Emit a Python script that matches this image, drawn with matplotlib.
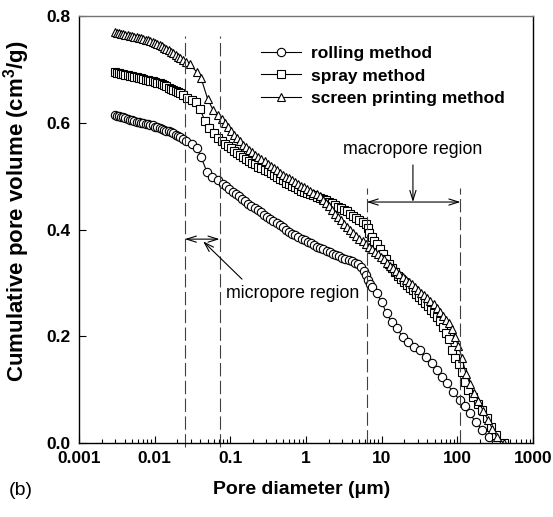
import matplotlib
matplotlib.use("Agg")
import matplotlib.pyplot as plt

plt.rcParams['font.family'] = ['Liberation Sans', 'DejaVu Sans']
plt.rcParams['mathtext.fontset'] = 'custom'
plt.rcParams['mathtext.bf'] = 'Liberation Sans:bold'
plt.rcParams['mathtext.rm'] = 'Liberation Sans'

# pore diameter (um) / cumulative pore volume (cm3/g)
rolling_d = [0.0030, 0.0032, 0.0034, 0.0036, 0.0038, 0.0041, 0.0044, 0.0047, 0.0050, 0.0054,
             0.0058, 0.0062, 0.0066, 0.0071, 0.0076, 0.0082, 0.0088, 0.0094, 0.0100, 0.0108,
             0.0116, 0.0124, 0.0133, 0.0143, 0.0153, 0.0164, 0.0176, 0.0189, 0.0203, 0.0218,
             0.0234, 0.026, 0.031, 0.036, 0.041, 0.049, 0.058, 0.068,
             0.080, 0.088, 0.097, 0.107, 0.118, 0.130, 0.143, 0.157, 0.173, 0.190,
             0.209, 0.230, 0.253, 0.278, 0.306, 0.337, 0.371, 0.408, 0.449, 0.494,
             0.543, 0.597, 0.657, 0.723, 0.795, 0.875, 0.962, 1.06, 1.16, 1.28,
             1.41, 1.55, 1.70, 1.87, 2.06, 2.27, 2.49, 2.74, 3.02, 3.32,
             3.65, 4.01, 4.41, 4.85, 5.3, 5.8, 6.2,
             6.6, 7.1, 7.5, 8.6, 10, 11.6, 13.5, 15.8, 19, 22, 27, 32, 38, 46,
             54, 62, 72, 87, 107, 125, 145, 175, 215, 260, 320]
rolling_v = [0.614, 0.613, 0.612, 0.611, 0.610, 0.609, 0.607, 0.606, 0.605, 0.604,
             0.602, 0.601, 0.600, 0.599, 0.598, 0.597, 0.596, 0.595, 0.593, 0.592,
             0.590, 0.589, 0.587, 0.585, 0.584, 0.582, 0.580, 0.578, 0.576, 0.573,
             0.570, 0.566, 0.560, 0.553, 0.536, 0.508, 0.498, 0.492,
             0.486, 0.481, 0.476, 0.471, 0.467, 0.462, 0.458, 0.453, 0.448, 0.444,
             0.440, 0.436, 0.432, 0.428, 0.424, 0.420, 0.416, 0.412, 0.408, 0.404,
             0.400, 0.396, 0.392, 0.389, 0.386, 0.383, 0.380, 0.377, 0.374, 0.371,
             0.368, 0.366, 0.363, 0.360, 0.358, 0.355, 0.352, 0.350, 0.347, 0.345,
             0.343, 0.341, 0.338, 0.335, 0.330, 0.323, 0.315,
             0.305, 0.297, 0.292, 0.281, 0.264, 0.243, 0.227, 0.215, 0.199, 0.189, 0.180, 0.174, 0.161, 0.150,
             0.137, 0.124, 0.112, 0.096, 0.081, 0.070, 0.056, 0.039, 0.024, 0.011, 0.003]

spray_d = [0.0030, 0.0032, 0.0034, 0.0036, 0.0038, 0.0041, 0.0044, 0.0047, 0.0050, 0.0054,
           0.0058, 0.0062, 0.0066, 0.0071, 0.0076, 0.0082, 0.0088, 0.0094, 0.0100, 0.0108,
           0.0116, 0.0124, 0.0133, 0.0143, 0.0153, 0.0164, 0.0176, 0.0189, 0.0203, 0.0218,
           0.0234, 0.027, 0.031, 0.035, 0.040, 0.046, 0.053, 0.061, 0.069,
           0.077, 0.085, 0.093, 0.102, 0.112, 0.123, 0.135, 0.148, 0.162, 0.178,
           0.195, 0.214, 0.235, 0.258, 0.283, 0.311, 0.341, 0.374, 0.411, 0.451,
           0.495, 0.543, 0.596, 0.654, 0.718, 0.788, 0.865, 0.950, 1.04, 1.14,
           1.25, 1.38, 1.51, 1.66, 1.82, 2.00, 2.20, 2.41, 2.65, 2.91,
           3.19, 3.50, 3.85, 4.22, 4.64, 5.09, 5.59, 6.14,
           6.5, 6.9, 7.4, 8.0, 8.7, 9.5, 10.4, 11.4, 12.5, 13.7,
           15.0, 16.5, 18.1, 19.8, 21.7, 23.8, 26.1, 28.6, 31.4, 34.4,
           37.7, 41.3, 45.3, 49.7, 54.5, 59.7, 65.5, 71.8, 78.7, 86.3,
           94.6, 104, 115, 126, 140, 160, 185, 215, 245, 280, 320, 410]
spray_v = [0.695, 0.694, 0.693, 0.692, 0.691, 0.690, 0.689, 0.688, 0.687, 0.686,
           0.685, 0.684, 0.683, 0.682, 0.681, 0.680, 0.679, 0.678, 0.677, 0.675,
           0.674, 0.672, 0.670, 0.668, 0.666, 0.664, 0.662, 0.660, 0.657, 0.655,
           0.652, 0.647, 0.642, 0.638, 0.625, 0.604, 0.590, 0.580, 0.571,
           0.565, 0.560, 0.556, 0.552, 0.548, 0.544, 0.540, 0.536, 0.532, 0.529,
           0.525, 0.522, 0.518, 0.515, 0.512, 0.509, 0.505, 0.502, 0.499, 0.495,
           0.492, 0.488, 0.485, 0.482, 0.479, 0.476, 0.473, 0.470, 0.468, 0.466,
           0.464, 0.461, 0.459, 0.457, 0.455, 0.452, 0.449, 0.446, 0.443, 0.440,
           0.437, 0.434, 0.430, 0.426, 0.422, 0.418, 0.414, 0.410,
           0.402, 0.394, 0.386, 0.378, 0.372, 0.364, 0.355, 0.345, 0.335, 0.327,
           0.320, 0.313, 0.307, 0.301, 0.296, 0.291, 0.286, 0.280, 0.274, 0.268,
           0.262, 0.256, 0.250, 0.244, 0.237, 0.228, 0.218, 0.207, 0.195, 0.175,
           0.160, 0.148, 0.133, 0.115, 0.100, 0.087, 0.074, 0.062, 0.046, 0.030, 0.015, 0.000]

screen_d = [0.0030, 0.0032, 0.0034, 0.0036, 0.0038, 0.0041, 0.0044, 0.0047, 0.0050, 0.0054,
            0.0058, 0.0062, 0.0066, 0.0071, 0.0076, 0.0082, 0.0088, 0.0094, 0.0100, 0.0108,
            0.0116, 0.0124, 0.0133, 0.0143, 0.0153, 0.0164, 0.0176, 0.0189, 0.0203, 0.0218,
            0.0234, 0.026, 0.029, 0.036, 0.041, 0.050, 0.059, 0.068, 0.077,
            0.085, 0.093, 0.102, 0.112, 0.123, 0.135, 0.148, 0.162, 0.178, 0.195,
            0.214, 0.235, 0.258, 0.283, 0.311, 0.341, 0.374, 0.411, 0.451, 0.495,
            0.543, 0.596, 0.654, 0.718, 0.788, 0.865, 0.950, 1.04, 1.14, 1.25,
            1.38, 1.51, 1.66, 1.82, 2.00, 2.20, 2.41, 2.65, 2.91, 3.19,
            3.50, 3.85, 4.22, 4.64, 5.09, 5.59, 6.14,
            6.7, 7.4, 8.1, 8.9, 9.8, 10.8, 11.8, 13.0, 14.3, 15.7,
            17.2, 18.9, 20.8, 22.8, 25.1, 27.6, 30.3, 33.3, 36.6, 40.2,
            44.2, 48.5, 53.3, 58.6, 64.4, 70.7, 77.7, 85.4, 93.8, 103,
            115, 130, 148, 168, 190, 220, 255, 290, 330, 410]
screen_v = [0.770, 0.769, 0.768, 0.767, 0.766, 0.765, 0.764, 0.763, 0.762, 0.761,
            0.760, 0.759, 0.758, 0.757, 0.756, 0.755, 0.754, 0.752, 0.750, 0.748,
            0.746, 0.743, 0.741, 0.738, 0.736, 0.733, 0.730, 0.727, 0.724, 0.721,
            0.718, 0.714, 0.710, 0.695, 0.684, 0.645, 0.624, 0.614, 0.607,
            0.600, 0.592, 0.585, 0.578, 0.571, 0.565, 0.559, 0.554, 0.549, 0.545,
            0.540, 0.536, 0.532, 0.528, 0.523, 0.519, 0.515, 0.511, 0.506, 0.502,
            0.499, 0.496, 0.493, 0.489, 0.485, 0.482, 0.479, 0.476, 0.472, 0.469,
            0.466, 0.462, 0.456, 0.450, 0.444, 0.437, 0.430, 0.423, 0.417, 0.411,
            0.405, 0.400, 0.394, 0.388, 0.383, 0.378, 0.373,
            0.368, 0.363, 0.358, 0.354, 0.349, 0.344, 0.338, 0.332, 0.327, 0.322,
            0.317, 0.311, 0.306, 0.301, 0.297, 0.292, 0.287, 0.282, 0.277, 0.272,
            0.266, 0.260, 0.253, 0.245, 0.238, 0.231, 0.224, 0.214, 0.198, 0.182,
            0.160, 0.130, 0.110, 0.093, 0.079, 0.060, 0.043, 0.027, 0.012, 0.000]

labels = ['rolling method', 'spray method', 'screen printing method']
x_ticks = [0.001, 0.01, 0.1, 1, 10, 100, 1000]
x_tick_labels = ['0.001', '0.01', '0.1', '1', '10', '100', '1000']
y_ticks = [0.0, 0.2, 0.4, 0.6, 0.8]
micro_bounds = [0.025, 0.072]
macro_bounds = [6.34, 110]

fig = plt.figure(figsize=(5.53, 5.17), dpi=100)
ax = fig.add_axes([0.1429, 0.1431, 0.8209, 0.8259])

style = dict(color='black', lw=0.8, mfc='white', mec='black', mew=0.8, ms=6)
ax.plot(rolling_d, rolling_v, marker='o', label=labels[0], **style)
ax.plot(spray_d, spray_v, marker='s', label=labels[1], **style)
ax.plot(screen_d, screen_v, marker='^', label=labels[2], **style)

ax.set_xscale('log')
ax.set_xlim(0.001, 1000)
ax.set_ylim(0.0, 0.8)
ax.set_xticks(x_ticks)
ax.set_xticklabels(x_tick_labels)
ax.set_yticks(y_ticks)
ax.set_yticklabels(['%.1f' % v for v in y_ticks])
ax.tick_params(which='both', direction='in', top=False, right=False,
               labelsize=12.5, pad=6)
ax.tick_params(which='major', length=5, width=0.8)
ax.tick_params(which='minor', length=3, width=0.8)
for lab in ax.get_xticklabels() + ax.get_yticklabels():
	lab.set_fontweight('bold')
for sp in ax.spines.values():
	sp.set_linewidth(1.0)
ax.spines['top'].set_color('0.45')

ax.set_xlabel('Pore diameter (\u03bcm)', fontsize=14, fontweight='bold')
ax.set_ylabel('Cumulative pore volume (cm$^{\\mathbf{3}}$/g)', fontsize=16, fontweight='bold')
ax.xaxis.set_label_coords(0.49, -0.09)
ax.yaxis.set_label_coords(-0.104, 0.543)

dash = (0, (12, 4))
for b in micro_bounds:
	ax.axvline(b, ymin=-0.01, ymax=0.953, color='0.25', lw=0.8, ls=dash, clip_on=False)
for b in macro_bounds:
	ax.axvline(b, ymin=0.0, ymax=0.597, color='0.25', lw=0.8, ls=dash)

arrow2 = dict(arrowstyle='<->,head_length=0.7,head_width=0.22', lw=0.8, color='black',
              shrinkA=0, shrinkB=0)
arrow1 = dict(arrowstyle='->,head_length=0.7,head_width=0.22', lw=0.8, color='black',
              shrinkA=0, shrinkB=0)
ax.annotate('', xy=(micro_bounds[0], 0.382), xytext=(micro_bounds[1], 0.382), arrowprops=arrow2)
ax.annotate('', xy=(0.0436, 0.378), xytext=(0.1426, 0.307), arrowprops=arrow1)
ax.text(0.088, 0.281, 'micropore region', fontsize=12.8, ha='left', va='center')

ax.annotate('', xy=(macro_bounds[0], 0.4515), xytext=(macro_bounds[1], 0.4515), arrowprops=arrow2)
ax.annotate('', xy=(25.9, 0.4515), xytext=(25.9, 0.521), arrowprops=arrow1)
ax.text(25.9, 0.549, 'macropore region', fontsize=12.8, ha='center', va='center')

ax.legend(loc='upper left', bbox_to_anchor=(0.401, 0.930), frameon=False,
          prop={'weight': 'bold', 'size': 12.5}, handlelength=2.3, handletextpad=0.6,
          labelspacing=0.42, borderpad=0, borderaxespad=0)

fig.text(0.015, 0.052, '(b)', fontsize=14, va='center', ha='left')

fig.savefig('out.png', dpi=100)
